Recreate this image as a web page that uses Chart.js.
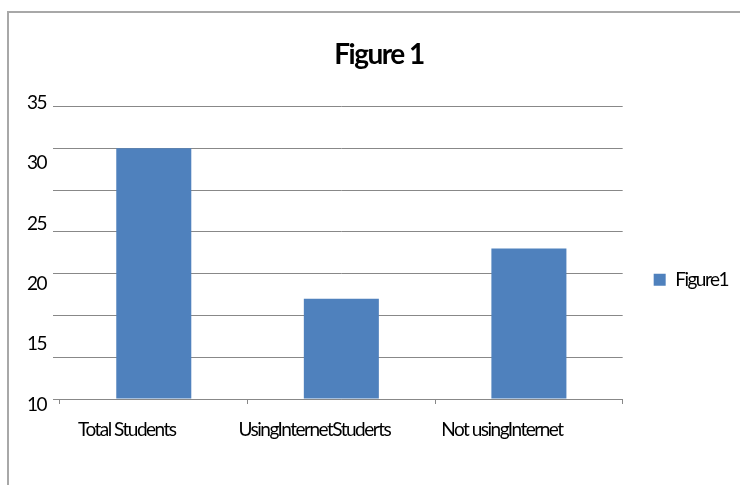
<!DOCTYPE html>
<html>
<head>
<meta charset="utf-8">
<title>Figure 1</title>
<script src="https://cdn.jsdelivr.net/npm/chart.js@4.4.1/dist/chart.umd.min.js"></script>
<style>
  html, body { margin: 0; padding: 0; background: #fff; overflow: hidden; }
  #wrap { position: relative; width: 740px; height: 485px; }
  #frame { position: absolute; left: 7px; top: 11px; width: 780px; height: 520px; border: 2px solid #a8a8a8; box-sizing: border-box; }
  #chart { position: absolute; left: 0; top: 0; }
</style>
</head>
<body>
<div id="wrap">
  <div id="frame"></div>
  <canvas id="chart" width="740" height="485"></canvas>
</div>
<script>
// data
var categories = ["Total Students", "UsingInternetStuderts", "Not usingInternet"];
var students = [30, 12, 18];
var seriesName = "Figure1";
// labels printed down the value axis
var axisLabels = [10, 15, 20, 25, 30, 35];

var face = "Lato, 'Open Sans', sans-serif";
var gridGrey = "#888888";

// tight letter spacing for every piece of text on the canvas
// (set again before each layout/draw because resizing resets the context)
var tightText = {
  id: "tightText",
  beforeUpdate: function (chart) { chart.ctx.letterSpacing = "-1.5px"; },
  beforeDraw: function (chart) { chart.ctx.letterSpacing = "-1.5px"; }
};

new Chart(document.getElementById("chart"), {
  type: "bar",
  plugins: [tightText],
  data: {
    labels: categories,
    datasets: [{
      label: seriesName,
      data: students,
      backgroundColor: "#4f81bd",
      borderWidth: 0,
      barPercentage: 0.4,
      categoryPercentage: 1.0,
      yAxisID: "y"
    }]
  },
  options: {
    responsive: false,
    animation: false,
    devicePixelRatio: 1,
    layout: {
      padding: { left: 20, top: 12, right: 2, bottom: 0 }
    },
    plugins: {
      title: {
        display: true,
        text: "Figure 1",
        color: "#000",
        font: { family: face, size: 28, weight: "bold" },
        padding: { top: 26, bottom: 35 }
      },
      legend: {
        position: "right",
        title: { display: true, text: "", padding: { top: 0, bottom: 48 } },
        labels: {
          boxWidth: 12,
          boxHeight: 12,
          padding: 31,
          color: "#000",
          font: { family: face, size: 19 }
        }
      },
      tooltip: { enabled: false }
    },
    scales: {
      x: {
        grid: { display: true, drawOnChartArea: false, color: gridGrey, tickLength: 5, offset: true },
        border: { color: gridGrey },
        ticks: {
          color: "#000",
          font: { family: face, size: 19 },
          padding: 14,
          labelOffset: -27,
          maxRotation: 0,
          autoSkip: false
        },
        afterFit: function (s) { s.height = 86; }
      },
      y: {
        weight: 0,
        min: 0,
        max: 35,
        ticks: { display: false, stepSize: 5 },
        grid: { color: gridGrey, tickLength: 7 },
        border: { display: false },
        afterFit: function (s) { s.width = 7; }
      },
      yLabels: {
        position: "left",
        weight: 1,
        min: 10.45,
        max: 34.71,
        grid: { display: false, drawTicks: false },
        border: { display: false },
        ticks: {
          color: "#000",
          font: { family: face, size: 19 },
          padding: 7
        },
        afterBuildTicks: function (s) {
          s.ticks = axisLabels.map(function (v) { return { value: v }; });
        },
        afterFit: function (s) { s.width = 33; }
      }
    }
  }
});
</script>
</body>
</html>
